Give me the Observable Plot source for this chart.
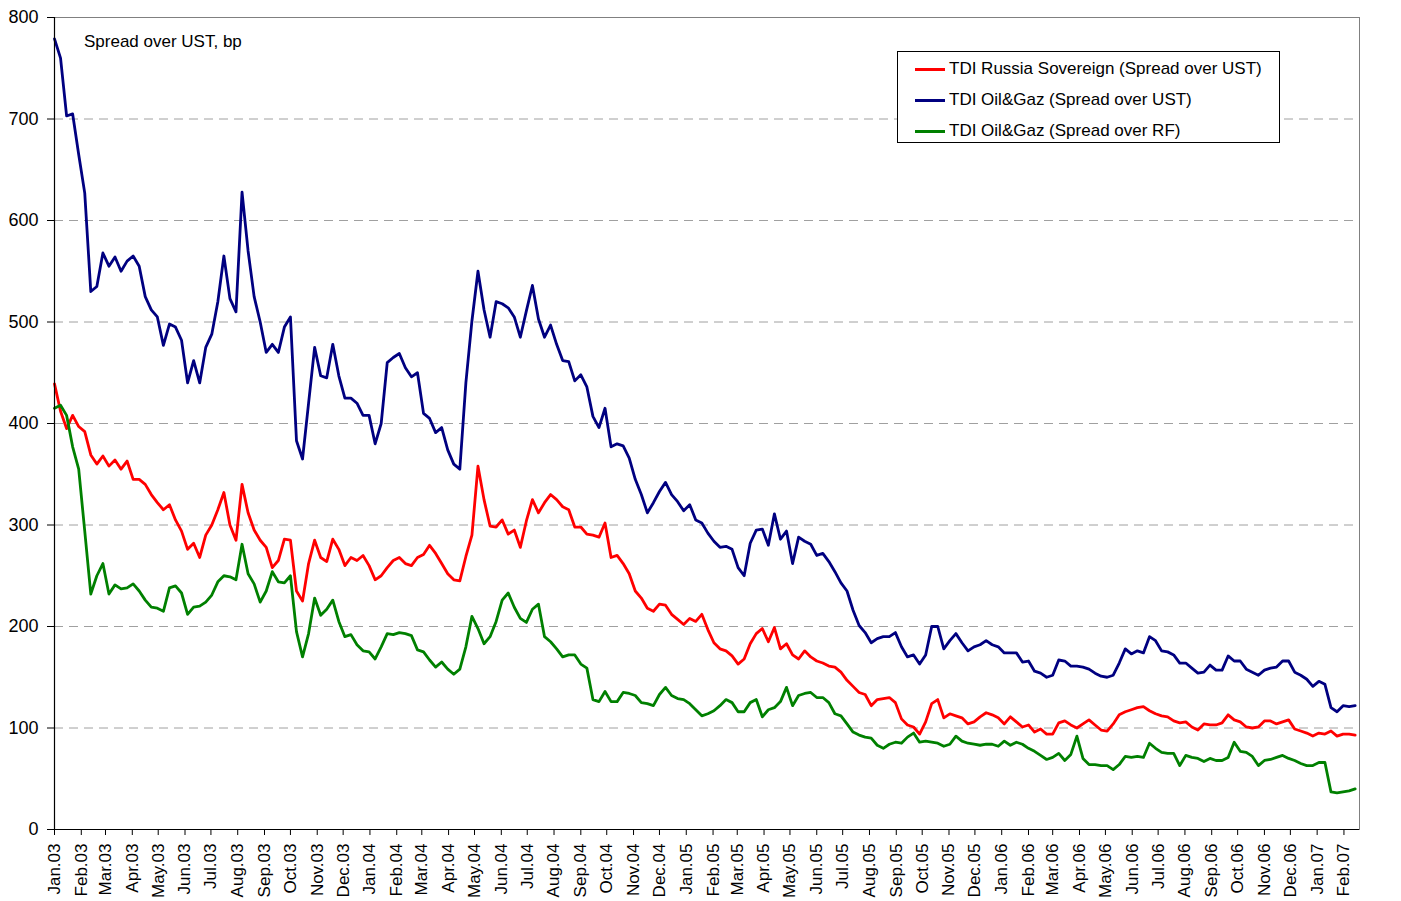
<!DOCTYPE html>
<html>
<head>
<meta charset="utf-8">
<script src="https://cdn.jsdelivr.net/npm/d3@7"></script>
<script src="https://cdn.jsdelivr.net/npm/@observablehq/plot@0.6"></script>
<style>
  html, body { margin: 0; padding: 0; background: #fff; }
  #wrap { position: relative; width: 1401px; height: 901px; font-family: "Liberation Sans", Arial, sans-serif; }
  #note { position: absolute; left: 84px; top: 32px; font-size: 17px; line-height: 20px; color: #000; white-space: nowrap; }
  #legend { position: absolute; left: 897px; top: 51px; width: 383px; height: 92px; border: 1px solid #000; background: #fff; box-sizing: border-box; }
  .item { position: absolute; left: 17px; height: 20px; font-size: 17px; line-height: 20px; white-space: nowrap; color: #000; }
  .sw { position: absolute; left: 0; top: 9px; width: 30px; height: 3px; }
  .lab { position: absolute; left: 34px; top: 0; }
</style>
</head>
<body>
<div id="wrap">
  <div id="chart"></div>
  <div id="note">Spread over UST, bp</div>
  <div id="legend"></div>
</div>
<script>
// Weekly observations starting 2003-01-01
const startDate = "2003-01-01";
const endDate = "2007-02-19";
const monthNames = ["Jan","Feb","Mar","Apr","May","Jun","Jul","Aug","Sep","Oct","Nov","Dec"];
const yTicks = [0,100,200,300,400,500,600,700,800];

const seriesNames = [
  "TDI Russia Sovereign (Spread over UST)",
  "TDI Oil&Gaz (Spread over UST)",
  "TDI Oil&Gaz (Spread over RF)"
];
const seriesColors = ["#ff0000", "#000080", "#008000"];

const russiaSovUST = [439,412,395,408,397,392,369,360,368,358,364,355,363,345,345,340,330,322,315,320,305,294,276,282,268,290,300,315,332,300,285,340,312,295,285,278,258,265,286,285,235,225,262,285,268,264,286,276,260,268,265,270,260,246,250,258,265,268,262,260,268,271,280,272,262,252,246,245,269,290,358,325,299,298,305,291,295,278,304,325,312,322,330,325,318,315,298,298,291,290,288,302,268,270,262,252,235,228,218,215,222,221,212,207,202,208,205,212,197,184,178,176,171,163,168,183,193,198,185,199,178,183,172,168,176,170,166,164,161,160,155,147,141,135,133,122,128,129,130,125,109,103,101,94,106,124,128,110,114,112,110,104,106,111,115,113,110,104,111,106,101,103,96,99,94,94,105,107,103,100,104,108,103,98,97,104,113,116,118,120,121,117,114,112,111,107,105,106,101,98,104,103,103,105,113,108,106,101,100,101,107,107,104,106,108,99,97,95,92,95,94,97,92,94,94,93];

const oilGazUST = [779,760,703,705,665,627,530,535,568,555,564,550,560,565,555,525,512,505,477,498,495,482,440,462,440,475,488,520,565,523,510,628,570,525,500,470,478,470,495,505,383,365,420,475,447,445,478,447,425,425,420,408,408,380,400,460,465,469,455,446,450,410,405,391,396,374,360,355,440,501,550,512,485,520,518,514,505,485,511,536,503,485,497,478,462,461,442,448,436,407,396,415,377,380,378,366,345,330,312,322,333,342,330,323,314,320,305,302,292,284,278,279,276,258,250,282,295,296,280,311,286,294,262,288,284,281,270,272,264,254,243,235,216,201,194,184,188,190,190,194,180,170,172,163,172,200,200,178,186,193,184,176,180,182,186,182,180,174,174,174,165,166,156,154,150,152,167,166,161,161,160,158,154,151,150,152,164,178,173,176,174,190,186,176,175,172,164,164,159,154,155,162,157,157,171,166,166,158,155,152,157,159,160,166,166,155,152,148,141,146,143,120,116,122,121,122];

const oilGazRF = [415,418,408,377,355,294,232,250,262,232,241,237,238,242,235,226,219,218,215,238,240,233,212,219,220,224,231,244,250,249,246,281,252,242,224,235,254,244,243,250,195,170,193,228,211,217,226,205,190,192,182,176,175,168,180,193,192,194,193,191,177,175,167,160,165,158,153,158,180,210,198,183,190,205,226,233,219,208,204,217,222,190,185,178,170,172,172,163,159,128,126,136,126,126,135,134,132,125,124,122,133,140,132,129,128,124,118,112,114,117,122,128,125,116,116,125,128,111,118,120,126,140,122,132,134,135,130,130,125,114,112,104,96,93,91,90,83,80,84,86,85,91,95,86,87,86,85,82,84,92,87,85,84,83,84,84,82,87,83,86,84,80,77,73,69,71,75,68,74,92,70,64,64,63,63,59,64,72,71,72,71,85,80,76,75,75,63,73,71,70,67,70,68,68,71,86,77,76,72,63,68,69,71,73,70,68,65,63,63,66,66,37,36,37,38,40];

const seriesValues = [russiaSovUST, oilGazUST, oilGazRF];

const x0 = new Date(startDate + "T00:00:00Z");
const x1 = new Date(endDate + "T00:00:00Z");

const tables = seriesValues.map((vals, s) =>
  vals.map((v, i) => ({ date: d3.utcDay.offset(x0, 7 * i), value: v, name: seriesNames[s] }))
);

const monthTicks = d3.utcMonth.range(x0, x1);
const fmtMonth = d => monthNames[d.getUTCMonth()] + "." + String(d.getUTCFullYear() % 100).padStart(2, "0");

const chart = Plot.plot({
  width: 1401,
  height: 901,
  marginLeft: 54,
  marginRight: 42,
  marginTop: 17,
  marginBottom: 72,
  style: { fontFamily: "'Liberation Sans', Arial, sans-serif", fontSize: "17px", background: "#fff", color: "#000" },
  x: { type: "utc", domain: [x0, x1], label: null },
  y: { domain: [0, 800], label: null },
  marks: [
    Plot.gridY(yTicks.filter(t => t > 0 && t < 800), { stroke: "#a0a0a0", strokeOpacity: 1, strokeDasharray: "9,6" }),
    Plot.frame({ stroke: "#808080" }),
    ...tables.map((t, s) => Plot.lineY(t, { x: "date", y: "value", stroke: seriesColors[s], strokeWidth: 2.8, strokeLinejoin: "round" })),
    Plot.ruleX([x0], { stroke: "#000", strokeWidth: 1.2 }),
    Plot.ruleY([0], { stroke: "#000", strokeWidth: 1.2 }),
    Plot.axisY(yTicks, { tickSize: 7, tickPadding: 9, tickFormat: d => String(d), label: null, fontSize: 18 }),
    Plot.axisX(monthTicks, { tickSize: 6, tickPadding: 8, tickRotate: -90, tickFormat: fmtMonth, label: null })
  ]
});
document.getElementById("chart").appendChild(chart);

const legend = document.getElementById("legend");
seriesNames.forEach((n, i) => {
  const it = document.createElement("div");
  it.className = "item";
  it.style.top = (7 + 31 * i) + "px";
  const sw = document.createElement("div");
  sw.className = "sw";
  sw.style.background = seriesColors[i];
  const lb = document.createElement("div");
  lb.className = "lab";
  lb.textContent = n;
  it.appendChild(sw);
  it.appendChild(lb);
  legend.appendChild(it);
});
</script>
</body>
</html>
